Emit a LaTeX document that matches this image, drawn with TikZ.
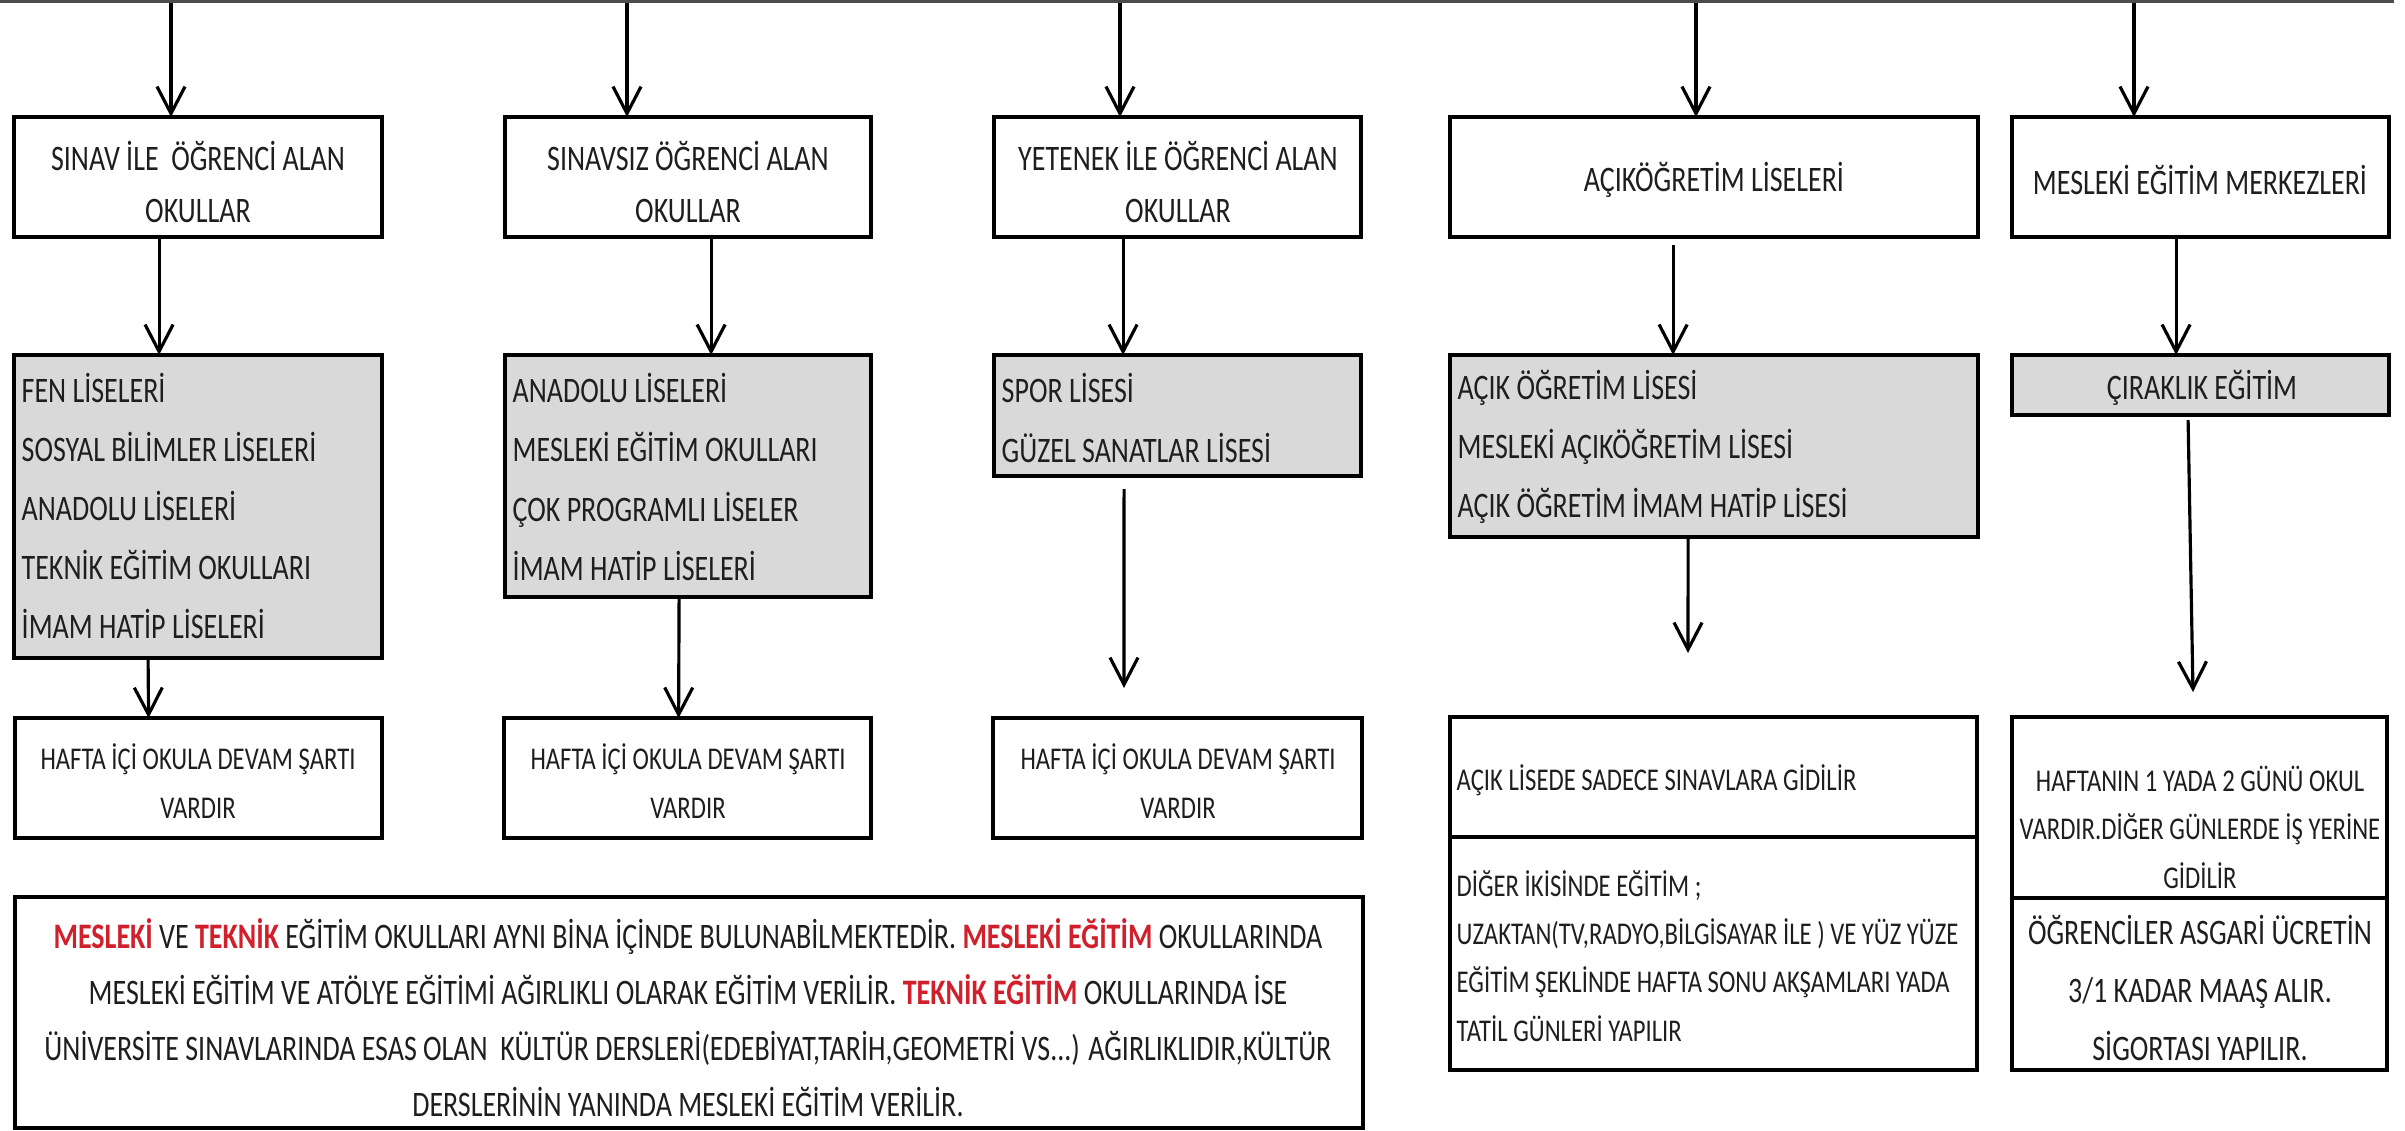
\documentclass[tikz,border=0pt]{standalone}
\usepackage{fontspec}
\setmainfont{Carlito}[FakeStretch=0.78]
\usetikzlibrary{arrows.meta,shadows}
\definecolor{txtc}{HTML}{1E1E1E}
\definecolor{grayfill}{HTML}{D9D9D9}
\definecolor{redc}{HTML}{D0202C}
\newcommand{\rd}[1]{\textcolor{redc}{\textbf{#1}}}
\tikzset{
  box/.style={draw=black, line width=1.2pt, rectangle, inner sep=0pt, outer sep=0pt, anchor=north west, fill=white,
    drop shadow={shadow xshift=0pt, shadow yshift=-0.18mm, fill=black!80, opacity=1}},
  gbox/.style={box, fill=grayfill},
  txt/.style={text=txtc, inner sep=0pt, align=center},
  ltxt/.style={text=txtc, inner sep=0pt, align=left, anchor=west},
  fL/.style={font=\fontsize{10.2pt}{#1}\selectfont},
  fS/.style={font=\fontsize{9pt}{#1}\selectfont},
  arr/.style={draw=black, line width=0.9pt, -{Straight Barb[length=2.7mm,width=2.8mm,line width=0.9pt]}}
}
\begin{document}
\begin{tikzpicture}[x=0.01cm, y=-0.01cm]
\useasboundingbox (0,0) rectangle (2405,1131);
% top line
\coordinate (L) at (0,1.5);
\coordinate (R) at (2394,1.5);
\draw[line width=0.6pt, draw=black!70] (L) -- (R);

% top row boxes
\node[box, minimum width=36.8mm, minimum height=12mm] (b1) at (14,117) {};
\node[box, minimum width=36.6mm, minimum height=12mm] (b2) at (505,117) {};
\node[box, minimum width=36.7mm, minimum height=12mm] (b3) at (994,117) {};
\node[box, minimum width=52.8mm, minimum height=12mm] (b4) at (1450,117) {};
\node[box, minimum width=37.7mm, minimum height=12mm] (b5) at (2012,117) {};

\node[txt, fL=14.8pt] (b1t) at (198,182) {SINAV İLE\ \ ÖĞRENCİ ALAN\\OKULLAR};
\node[txt, fL=14.8pt] (b2t) at (688,182) {SINAVSIZ ÖĞRENCİ ALAN\\OKULLAR};
\node[txt, fL=14.8pt] (b3t) at (1178,182) {YETENEK İLE ÖĞRENCİ ALAN\\OKULLAR};
\node[txt, fL=14.8pt] (b4t) at (1714,180) {AÇIKÖĞRETİM LİSELERİ};
\node[txt, fL=14.8pt] (b5t) at (2200,180) {MESLEKİ EĞİTİM MERKEZLERİ};

% gray boxes
\node[gbox, minimum width=36.8mm, minimum height=30.3mm] (g1) at (14,355) {};
\node[gbox, minimum width=36.6mm, minimum height=24.2mm] (g2) at (505,355) {};
\node[gbox, minimum width=36.7mm, minimum height=12.1mm] (g3) at (994,355) {};
\node[gbox, minimum width=52.8mm, minimum height=18.2mm] (g4) at (1450,355) {};
\node[gbox, minimum width=37.7mm, minimum height=6mm] (g5) at (2012,355) {};

\node[ltxt, fL=16.8pt] (g1t) at (21,506) {FEN LİSELERİ\\SOSYAL BİLİMLER LİSELERİ\\ANADOLU LİSELERİ\\TEKNİK EĞİTİM OKULLARI\\İMAM HATİP LİSELERİ};
\node[ltxt, fL=16.8pt] (g2t) at (512,477) {ANADOLU LİSELERİ\\MESLEKİ EĞİTİM OKULLARI\\ÇOK PROGRAMLI LİSELER\\İMAM HATİP LİSELERİ};
\node[ltxt, fL=16.8pt] (g3t) at (1001,418) {SPOR LİSESİ\\GÜZEL SANATLAR LİSESİ};
\node[ltxt, fL=16.8pt] (g4t) at (1457,447) {AÇIK ÖĞRETİM LİSESİ\\MESLEKİ AÇIKÖĞRETİM LİSESİ\\AÇIK ÖĞRETİM İMAM HATİP LİSESİ};
\node[txt, fL=16.8pt] (g5t) at (2202,388) {ÇIRAKLIK EĞİTİM};

% bottom left boxes
\node[box, minimum width=36.7mm, minimum height=12mm] (h1) at (15,718) {};
\node[box, minimum width=36.7mm, minimum height=12mm] (h2) at (504,718) {};
\node[box, minimum width=36.9mm, minimum height=12mm] (h3) at (993,718) {};
\node[txt, fS=13.9pt] (h1t) at (198,781) {HAFTA İÇİ OKULA DEVAM ŞARTI\\VARDIR};
\node[txt, fS=13.9pt] (h2t) at (688,781) {HAFTA İÇİ OKULA DEVAM ŞARTI\\VARDIR};
\node[txt, fS=13.9pt] (h3t) at (1178,781) {HAFTA İÇİ OKULA DEVAM ŞARTI\\VARDIR};

% big box
\node[box, minimum width=134.7mm, minimum height=23.1mm] (m) at (15,897) {};
\node[txt, fL=15.9pt] (mt) at (688,1018) {\rd{MESLEKİ} VE \rd{TEKNİK} EĞİTİM OKULLARI AYNI BİNA İÇİNDE BULUNABİLMEKTEDİR. \rd{MESLEKİ EĞİTİM} OKULLARINDA\\
MESLEKİ EĞİTİM VE ATÖLYE EĞİTİMİ AĞIRLIKLI OLARAK EĞİTİM VERİLİR. \rd{TEKNİK EĞİTİM} OKULLARINDA İSE\\
ÜNİVERSİTE SINAVLARINDA ESAS OLAN\ \ KÜLTÜR DERSLERİ(EDEBİYAT,TARİH,GEOMETRİ VS...) AĞIRLIKLIDIR,KÜLTÜR\\
DERSLERİNİN YANINDA MESLEKİ EĞİTİM VERİLİR.};

% right bottom boxes
\node[box, minimum width=52.7mm, minimum height=12mm] (a1) at (1450,717) {};
\node[box, minimum width=52.7mm, minimum height=23.3mm] (a2) at (1450,837) {};
\node[ltxt, fS=13.7pt] (a1t) at (1456,780) {AÇIK LİSEDE SADECE SINAVLARA GİDİLİR};
\node[ltxt, fS=13.7pt] (a2t) at (1456,956) {DİĞER İKİSİNDE EĞİTİM ;\\UZAKTAN(TV,RADYO,BİLGİSAYAR İLE ) VE YÜZ YÜZE\\EĞİTİM ŞEKLİNDE HAFTA SONU AKŞAMLARI YADA\\TATİL GÜNLERİ YAPILIR};

\node[box, minimum width=37.5mm, minimum height=18.1mm] (r1) at (2012,717) {};
\node[box, minimum width=37.5mm, minimum height=17.2mm] (r2) at (2012,898) {};
\node[txt, fS=13.8pt] (r1t) at (2200,827) {HAFTANIN 1 YADA 2 GÜNÜ OKUL\\VARDIR.DİĞER GÜNLERDE İŞ YERİNE\\GİDİLİR};
\node[txt, fL=16.4pt] (r2t) at (2200,988) {ÖĞRENCİLER ASGARİ ÜCRETİN\\3/1 KADAR MAAŞ ALIR.\\SİGORTASI YAPILIR.};

% arrows from top line
\coordinate (t1) at (171,3);
\coordinate (t2) at (627,3);
\coordinate (t3) at (1120,3);
\coordinate (t4) at (1696,3);
\coordinate (t5) at (2134,3);
\draw[arr] (t1) -- (t1 |- b1.north);
\draw[arr] (t2) -- (t2 |- b2.north);
\draw[arr] (t3) -- (t3 |- b3.north);
\draw[arr] (t4) -- (t4 |- b4.north);
\draw[arr] (t5) -- (t5 |- b5.north);

% top boxes to gray boxes
\draw[arr] ([xshift=-3.9mm]b1.south) -- ([xshift=-3.9mm]g1.north);
\draw[arr] ([xshift=2.3mm]b2.south) -- ([xshift=2.3mm]g2.north);
\draw[arr] ([xshift=-5.45mm]b3.south) -- ([xshift=-5.45mm]g3.north);
\draw[arr] ([xshift=-4.1mm,yshift=-0.8mm]b4.south) -- ([xshift=-4.1mm]g4.north);
\draw[arr] ([xshift=-2.45mm]b5.south) -- ([xshift=-2.45mm]g5.north);

% gray boxes downward
\coordinate (e3) at (1124,688);
\coordinate (e4) at (1688,653);
\coordinate (e5) at (2193,692);
\draw[arr] ([xshift=-5mm]g1.south) -- ([xshift=-5mm]h1.north);
\draw[arr] ([xshift=-0.9mm]g2.south) -- ([xshift=-0.9mm]h2.north);
\draw[arr] ([xshift=-5.35mm,yshift=-1.3mm]g3.south) -- (e3);
\draw[arr] ([xshift=-2.6mm]g4.south) -- (e4);
\draw[arr] ([xshift=-1.25mm,yshift=-0.5mm]g5.south) -- (e5);
\end{tikzpicture}
\end{document}
